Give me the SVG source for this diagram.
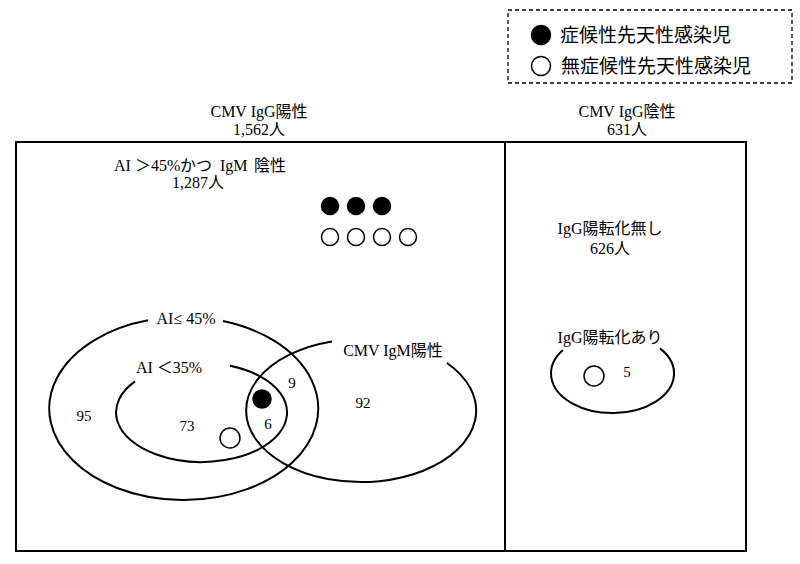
<svg xmlns="http://www.w3.org/2000/svg" width="800" height="564" viewBox="0 0 800 564">
<style>
text{font-family:"Liberation Serif","Noto Sans CJK JP",serif;font-size:16px;fill:#000}
.c{text-anchor:middle}
.n{font-size:15px}
.lg{font-size:19px}
.ln{fill:none;stroke:#000;stroke-width:2}
.f{fill:#000;stroke:#000;stroke-width:1.5}
.h{fill:#fff;stroke:#000;stroke-width:1.5}
</style>
<rect width="800" height="564" fill="#fff"/>
<g id="legend">
<rect x="508" y="10" width="284" height="73" fill="none" stroke="#000" stroke-width="1.3" stroke-dasharray="4,3"/>
<circle class="f" cx="541" cy="35" r="9.5"/>
<text class="lg" x="560" y="42">症候性先天性感染児</text>
<circle class="h" cx="541" cy="66" r="9.5"/>
<text class="lg" x="561" y="73">無症候性先天性感染児</text>
</g>
<g id="igg-positive">
<rect class="ln" x="16" y="142" width="489" height="409"/>
<text class="c" x="259" y="117">CMV IgG陽性</text>
<text class="c" x="259" y="135">1,562人</text>
<text y="171" font-size="15"><tspan x="114">AI</tspan><tspan x="135">＞</tspan><tspan x="151">45%</tspan><tspan x="180">かつ</tspan><tspan x="220">IgM</tspan><tspan x="254">陰性</tspan></text>
<text class="c" x="198" y="188">1,287人</text>
<circle class="f" cx="330" cy="206" r="8.5"/>
<circle class="f" cx="356" cy="206" r="8.5"/>
<circle class="f" cx="382" cy="206" r="8.5"/>
<circle class="h" cx="330" cy="237" r="8.5"/>
<circle class="h" cx="356" cy="237" r="8.5"/>
<circle class="h" cx="382" cy="237" r="8.5"/>
<circle class="h" cx="408" cy="237" r="8.5"/>
</g>
<g id="igg-negative">
<rect class="ln" x="505" y="142" width="241" height="409"/>
<text class="c" x="627" y="117">CMV IgG陰性</text>
<text class="c" x="627" y="135">631人</text>
<text class="c" x="610" y="234">IgG陽転化無し</text>
<text class="c" x="610" y="254">626人</text>
</g>
<g id="ai45">
<path class="ln" d="M223 321 A134.5 91.5 0 1 1 148 320.3"/>
<text class="c" x="186" y="324">AI≤ 45%</text>
<text class="c n" x="84" y="421">95</text>
</g>
<g id="ai35">
<path class="ln" d="M230 365.8 A85.5 49.5 0 1 1 135 381.4"/>
<text class="c" x="169" y="373">AI ＜35%</text>
<text class="c n" x="187" y="431">73</text>
<circle class="h" cx="230" cy="438" r="10"/>
</g>
<g id="igm">
<path class="ln" d="M447 363 A115 71.5 0 1 1 332 341.4"/>
<text class="c" x="393" y="356">CMV IgM陽性</text>
<text class="c n" x="363" y="408">92</text>
<text class="c n" x="292" y="388">9</text>
<text class="c n" x="268" y="429">6</text>
<circle class="f" cx="262" cy="399" r="9"/>
</g>
<g id="seroconversion">
<path class="ln" d="M660 348.4 A61.5 39.5 0 1 1 563 350.1"/>
<text class="c" x="610" y="343">IgG陽転化あり</text>
<circle class="h" cx="594" cy="376" r="10"/>
<text class="c n" x="627" y="377">5</text>
</g>
<g id="connectors"></g>
</svg>
